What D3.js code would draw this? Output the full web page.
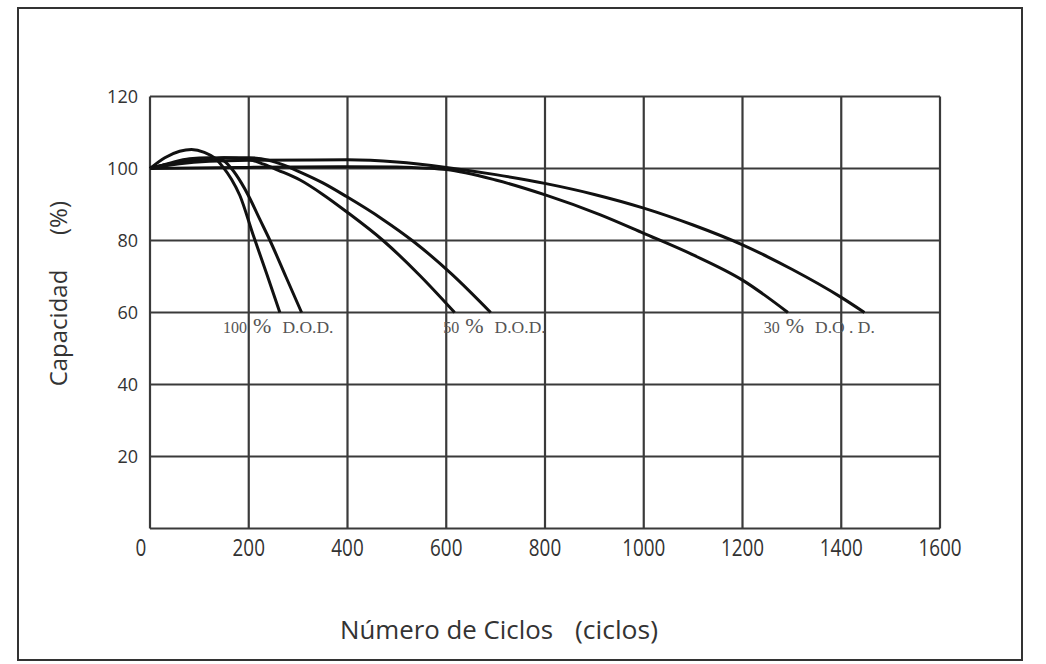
<!DOCTYPE html>
<html><head><meta charset="utf-8">
<script src="https://cdn.jsdelivr.net/npm/d3@7"></script>
<style>html,body{margin:0;padding:0;background:#fff}svg{display:block}</style>
</head><body>
<svg id="c" width="1046" height="664"></svg>
<script>
const xTicks = [0,200,400,600,800,1000,1200,1400,1600];
const yTicks = [20,40,60,80,100,120];
// 100% D.O.D.
const dod100a = [[0,100],[30,103],[60,104.8],[84,105.3],[110,104.5],[130,103],[148,100.4],[165,97],[182,92.5],[209,81.5],[237,70.5],[263,60]];
const dod100b = [[0,100],[40,101.5],[80,102.7],[120,103],[145,102.5],[165,100],[185,96],[200,92.3],[222,86],[243,80],[275,70],[307,60]];
// 50% D.O.D.
const dod50a = [[0,100],[50,101.5],[100,102.5],[150,103],[200,102.5],[230,101.2],[260,99.5],[304,96.8],[350,92.8],[398,88],[472,80],[545,70.5],[617,60]];
const dod50b = [[0,100],[50,101.5],[100,102.5],[150,103],[200,103],[240,102.3],[270,101],[304,99],[350,96],[398,92.2],[470,86],[533,79.8],[610,70.8],[690,60]];
// 30% D.O.D.
const dod30a = [[0,100],[200,100.3],[400,100.5],[500,100.4],[560,100.1],[600,99.7],[700,96.8],[802,92.6],[911,87.2],[1000,82],[1100,76],[1200,69],[1292,60]];
const dod30b = [[0,100],[60,101.3],[120,102],[200,102.3],[400,102.4],[500,101.8],[600,100.3],[700,98.3],[802,95.8],[900,92.8],[1000,89],[1100,84.3],[1200,78.8],[1300,72],[1400,64.2],[1447,60]];
const series = [dod100a, dod100b, dod50a, dod50b, dod30a, dod30b];
const labels = [
  {x:148, pre:"100", post:"D.O.D."},
  {x:594, pre:"50", post:"D.O.D."},
  {x:1243, pre:"30", post:"D.O . D."}
];

const svg = d3.select("#c");
const L=150, R=940, T=96.5, B=528.5;
const x = d3.scaleLinear().domain([0,1600]).range([L,R]);
const y = d3.scaleLinear().domain([0,120]).range([B,T]);

// outer frame
svg.append("rect").attr("x",18).attr("y",8).attr("width",1004).attr("height",652)
  .attr("fill","none").attr("stroke","#333").attr("stroke-width",2);

const grid = svg.append("g").attr("stroke","#3a3a3a").attr("stroke-width",2.2);
xTicks.forEach(t=>grid.append("line").attr("x1",x(t)).attr("x2",x(t)).attr("y1",T).attr("y2",B));
yTicks.concat([0]).forEach(t=>grid.append("line").attr("x1",L).attr("x2",R).attr("y1",y(t)).attr("y2",y(t)));

const font = "'Open Sans',sans-serif";
svg.append("g").selectAll("text").data(xTicks).join("text")
  .attr("transform",d=>`translate(${d===0?x(d)-9:x(d)},556) scale(0.82,1)`).attr("text-anchor","middle")
  .attr("font-family",font).attr("font-size",23).attr("fill","#333").text(d=>d);
svg.append("g").selectAll("text").data(yTicks).join("text")
  .attr("x",138).attr("y",d=>y(d)+6.5).attr("text-anchor","end")
  .attr("font-family",font).attr("font-size",18).attr("fill","#333").text(d=>d);

const yt = svg.append("g").attr("font-family",font).attr("font-size",24).attr("fill","#333").attr("text-anchor","middle");
yt.append("text").attr("transform","translate(67,328) rotate(-90)").text("Capacidad");
yt.append("text").attr("transform","translate(67,218) rotate(-90)").text("(%)");
const xt = svg.append("g").attr("font-family",font).attr("font-size",25).attr("fill","#333");
xt.append("text").attr("x",340).attr("y",639).attr("textLength",213).attr("lengthAdjust","spacingAndGlyphs").text("Número de Ciclos");
xt.append("text").attr("x",575).attr("y",639).attr("textLength",83).attr("lengthAdjust","spacingAndGlyphs").text("(ciclos)");

const line = d3.line().x(d=>x(d[0])).y(d=>y(d[1])).curve(d3.curveMonotoneX);
svg.append("g").selectAll("path").data(series).join("path")
  .attr("d",line).attr("fill","none").attr("stroke","#111").attr("stroke-width",3);

const lg = svg.append("g");
labels.forEach(l=>{
  const t = lg.append("text").attr("x",x(l.x)).attr("y",333)
    .attr("font-family","'Liberation Serif','DejaVu Serif',serif").attr("fill","#555");
  t.append("tspan").attr("font-size",16).text(l.pre);
  t.append("tspan").attr("font-size",22).attr("dx",6).text("%");
  t.append("tspan").attr("font-size",17.5).attr("dx",11).text(l.post);
});
</script>
</body></html>
